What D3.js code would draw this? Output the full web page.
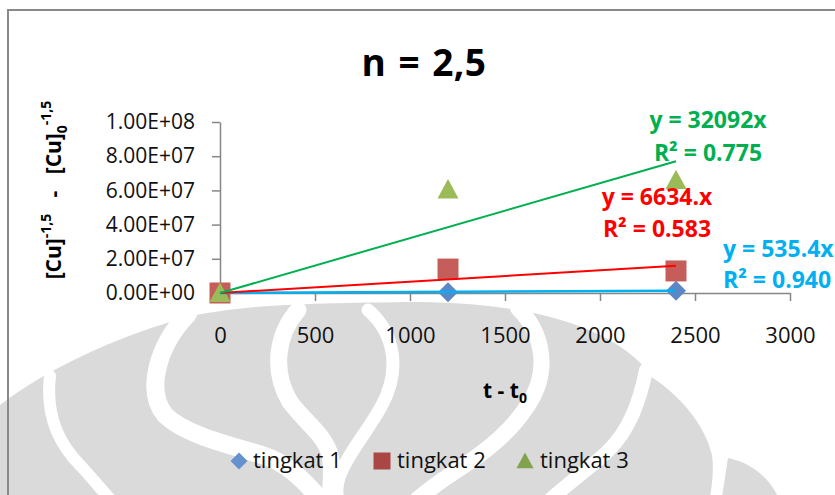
<!DOCTYPE html>
<html>
<head>
<meta charset="utf-8">
<script src="https://cdn.jsdelivr.net/npm/d3@7"></script>
<style>
  html, body { margin: 0; padding: 0; background: #fff; }
  svg { display: block; }
  text { font-family: "Open Sans", "Liberation Sans", sans-serif; }
</style>
</head>
<body>
<svg id="chart" width="835" height="495"></svg>
<script>
// ---- data ----
const times = [0, 1200, 2400];
const seriesNames = ["tingkat 1", "tingkat 2", "tingkat 3"];
const tingkat1 = [0, 0.45e6, 1.38e6];
const tingkat2 = [0, 14.0e6, 12.9e6];
const tingkat3 = [0, 60.5e6, 66.0e6];
const slopes = [535.4, 6634, 32092];
const equationLabels = ["y = 535.4x", "y = 6634.x", "y = 32092x"];
const r2Labels = ["R² = 0.940", "R² = 0.583", "R² = 0.775"];
const xTicks = [0, 500, 1000, 1500, 2000, 2500, 3000];
const yTicks = [0, 2e7, 4e7, 6e7, 8e7, 1e8];
const titleText = "n = 2,5";

const svg = d3.select("#chart");
const W = 835, H = 495;

// ---- faint background emblem ----
const emblem = svg.append("g").attr("class", "emblem");
const emblemFill = "#dadada";
emblem.append("path")
  .attr("d", "M0,405 C30,382 90,345 183,318 C240,305 300,303 420,302 C500,303 560,315 600,335 C630,350 645,366 650,376 C680,395 705,425 712,455 C714,470 712,485 710,497 L0,497 Z")
  .attr("fill", emblemFill);
emblem.append("path")
  .attr("d", "M728,458 C750,462 770,478 778,497 L722,497 C724,485 726,470 728,458 Z")
  .attr("fill", emblemFill);
const cuts = [
  {d: "M50,376 C46,410 55,440 80,465 C92,478 100,488 110,499", w: 12},
  {d: "M188,314 C158,345 145,390 165,415 C185,435 230,445 262,455 C285,462 302,478 320,499", w: 18},
  {d: "M298,310 C276,335 272,372 290,402 C305,422 325,435 330,455 C333,470 331,485 330,499", w: 17},
  {d: "M368,310 C396,334 400,372 382,405 C370,428 352,448 342,470 C336,483 336,492 338,499", w: 13},
  {d: "M518,308 C544,334 550,372 528,405 C512,430 490,448 465,465 C445,478 430,488 418,499", w: 16},
  {d: "M646,370 C640,400 630,430 607,452 C590,468 570,482 551,499", w: 14}
];
emblem.selectAll("path.cut").data(cuts).join("path")
  .attr("class", "cut")
  .attr("d", d => d.d)
  .attr("fill", "none")
  .attr("stroke", "#fff")
  .attr("stroke-width", d => d.w)
  .attr("stroke-linecap", "round");

// ---- chart frame ----
svg.append("path")
  .attr("d", `M8,${H + 2} L8,10 L${W + 2},10`)
  .attr("fill", "none")
  .attr("stroke", "#898989")
  .attr("stroke-width", 2);

// ---- scales ----
const x = d3.scaleLinear().domain([0, 3000]).range([220, 790]);
const y = d3.scaleLinear().domain([0, 1e8]).range([293, 122]);

function excelSci(v) {
  if (v === 0) return "0.00E+00";
  const e = Math.floor(Math.log10(Math.abs(v)));
  const m = v / Math.pow(10, e);
  return m.toFixed(2) + "E+" + String(e).padStart(2, "0");
}

// ---- axes ----
const axisColor = "#868686";
const gx = svg.append("g").attr("transform", `translate(0,${y(0)})`)
  .call(d3.axisBottom(x).tickValues(xTicks).tickSize(8).tickSizeOuter(0).tickFormat(d3.format("d")));
gx.select(".domain").attr("stroke", axisColor).attr("stroke-width", 1.5);
gx.selectAll(".tick line").attr("stroke", axisColor).attr("stroke-width", 1.5);
gx.selectAll(".tick text").attr("dy", null).attr("y", 50)
  .attr("font-size", 22).attr("fill", "#111")
  .style("font-family", '"Open Sans", sans-serif');

const gy = svg.append("g").attr("transform", `translate(${x(0)},0)`)
  .call(d3.axisLeft(y).tickValues(yTicks).tickSize(8).tickSizeOuter(0).tickPadding(17).tickFormat(excelSci));
gy.select(".domain").attr("stroke", axisColor).attr("stroke-width", 1.5);
gy.selectAll(".tick line").attr("stroke", axisColor).attr("stroke-width", 1.5);
gy.selectAll(".tick text").attr("font-size", 21).attr("fill", "#111")
  .style("font-family", '"Open Sans", sans-serif');

// ---- markers ----
function markerPath(kind, s) {
  const h = s / 2;
  if (kind === "diamond") return `M0,${-h}L${h},0L0,${h}L${-h},0Z`;
  if (kind === "square") return `M${-h},${-h}H${h}V${h}H${-h}Z`;
  return `M0,${-h}L${h},${h * 0.85}L${-h},${h * 0.85}Z`;
}
const kinds = ["diamond", "square", "triangle"];
const markerColors = ["#5b87c7", "#c55d5a", "#9bbb59"];
const legendColors = ["#6592cf", "#aa4643", "#80a34b"];
const trendColors = ["#00b0f0", "#ff0000", "#00b050"];
const allValues = [tingkat1, tingkat2, tingkat3];

allValues.forEach((vals, i) => {
  svg.append("g").selectAll("path").data(times.map((t, j) => ({t, v: vals[j]}))).join("path")
    .attr("transform", d => `translate(${x(d.t)},${y(d.v)})`)
    .attr("d", markerPath(kinds[i], i === 0 ? 20 : 21))
    .attr("fill", markerColors[i]);
});

// ---- linear trendlines through the origin ----
const tMax = d3.max(times);
const line = d3.line().x(d => x(d[0])).y(d => y(d[1]));
slopes.forEach((k, i) => {
  svg.append("path")
    .attr("d", line([[0, 0], [tMax, k * tMax]]))
    .attr("fill", "none")
    .attr("stroke", trendColors[i])
    .attr("stroke-width", i === 0 ? 2.5 : 2);
});

// ---- trendline equations ----
const eqPos = [
  {x: 723, y1: 257, y2: 288, anchor: "start"},
  {x: 657, y1: 205, y2: 237, anchor: "middle"},
  {x: 708, y1: 128, y2: 161, anchor: "middle"}
];
eqPos.forEach((p, i) => {
  const g = svg.append("g").attr("fill", trendColors[i])
    .attr("font-weight", "bold").attr("font-size", 23).attr("text-anchor", p.anchor);
  g.append("text").attr("x", p.x).attr("y", p.y1).text(equationLabels[i]);
  g.append("text").attr("x", p.x).attr("y", p.y2).text(r2Labels[i]);
});

// ---- title ----
svg.append("text").attr("x", 424).attr("y", 76).attr("text-anchor", "middle")
  .attr("font-size", 37).attr("font-weight", "bold").attr("fill", "#000")
  .attr("letter-spacing", 0.5).attr("word-spacing", 2)
  .text(titleText);

// ---- axis titles ----
const yt = svg.append("text")
  .attr("transform", "translate(61,190) rotate(-90)")
  .attr("text-anchor", "middle")
  .attr("font-size", 21).attr("font-weight", "bold").attr("fill", "#000")
  .style("white-space", "pre");
yt.append("tspan").text("[Cu]");
yt.append("tspan").attr("dy", -10).attr("font-size", 14).text("-1,5");
yt.append("tspan").attr("dy", 10).text("   -   ");
yt.append("tspan").text("[Cu]");
yt.append("tspan").attr("dy", 6).attr("font-size", 14).text("0");
yt.append("tspan").attr("dy", -16).attr("font-size", 14).text("-1,5");

const xt = svg.append("text").attr("x", 505).attr("y", 398).attr("text-anchor", "middle")
  .attr("font-size", 21).attr("font-weight", "bold").attr("fill", "#000");
xt.append("tspan").text("t - t");
xt.append("tspan").attr("dy", 5).attr("font-size", 14).text("0");

// ---- legend ----
const legendItems = [
  {mx: 239, tx: 253},
  {mx: 382, tx: 397},
  {mx: 525, tx: 540}
];
const lg = svg.append("g");
legendItems.forEach((it, i) => {
  lg.append("path").attr("transform", `translate(${it.mx},461)`)
    .attr("d", markerPath(kinds[i], 17)).attr("fill", legendColors[i]);
  lg.append("text").attr("x", it.tx).attr("y", 468).attr("font-size", 22).attr("fill", "#111")
    .text(seriesNames[i]);
});
</script>
</body>
</html>
